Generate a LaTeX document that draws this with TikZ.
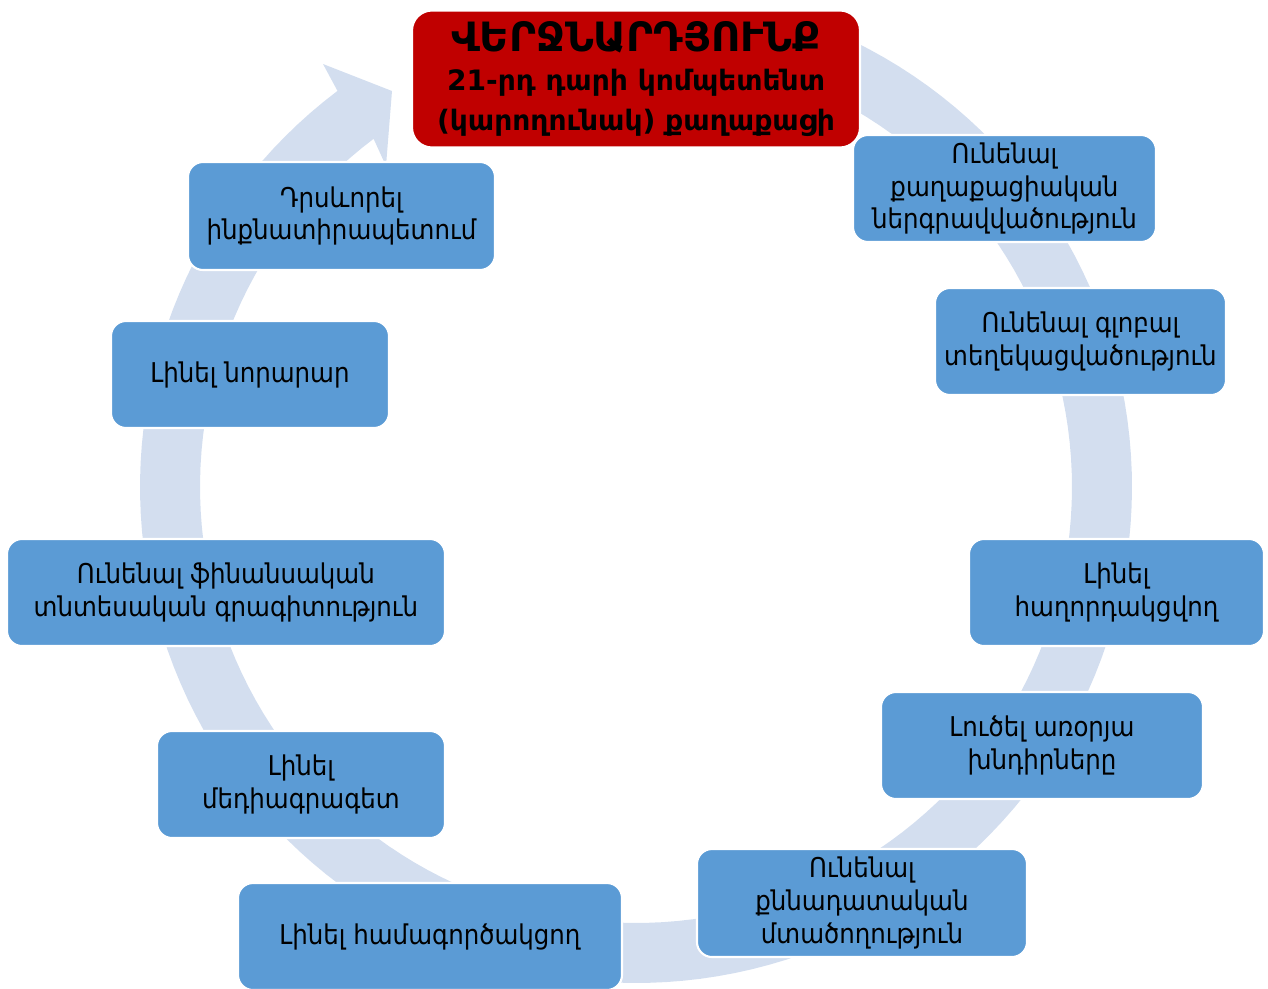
\documentclass[tikz,border=0pt]{standalone}
\usepackage{fontspec}
\setmainfont{DejaVu Sans}
\newfontfamily\armfont{DejaVu Sans Condensed}
\newfontfamily\armboldfont{DejaVu Sans}
\definecolor{ringcol}{HTML}{D3DEEF}
\definecolor{boxblue}{HTML}{5B9BD5}
\definecolor{boxred}{HTML}{C00000}
\tikzset{
  bsize/.style 2 args={minimum width=#1*0.02cm, minimum height=#2*0.02cm},
  bluebox/.style={rectangle, rounded corners=0.3cm, fill=boxblue, draw=white,
    line width=1.2pt, align=center, inner sep=0pt, text=black,
    font=\armfont\fontsize{15.5}{18.7}\selectfont},
  redbox/.style={rectangle, rounded corners=0.4cm, fill=boxred, draw=white,
    line width=1.2pt, align=center, inner sep=0pt, text=black,
    font=\armboldfont\bfseries\fontsize{16}{22.5}\selectfont},
}
\begin{document}
\begin{tikzpicture}[x=0.02cm, y=-0.02cm]
\useasboundingbox (0,0) rectangle (1268,988);
% circular arrow
\fill[ringcol] plot[domain=-66:233, samples=150] ({636+496*cos(\x)},{487+496*sin(\x)})
  -- (323,64) -- (392,91) -- (386,166)
  -- plot[domain=233:-66, samples=150] ({636+436*cos(\x)},{487+436*sin(\x)}) -- cycle;
% boxes
\node[redbox, bsize={448}{137}] (top) at (636,79)
  {{\fontsize{23}{26}\selectfont ՎԵՐՋՆԱՐԴՅՈՒՆՔ}\\21-րդ դարի կոմպետենտ\\(կարողունակ) քաղաքացի};
\node[bluebox, bsize={303}{107}] (b1) at (1004.5,188.5) {Ունենալ\\քաղաքացիական\\ներգրավվածություն};
\node[bluebox, bsize={291}{107}] (b2) at (1080.5,341.5) {Ունենալ գլոբալ\\տեղեկացվածություն};
\node[bluebox, bsize={295}{107}] (b3) at (1116.5,592.5) {Լինել\\հաղորդակցվող};
\node[bluebox, bsize={322}{107}] (b4) at (1042,745.5) {Լուծել առօրյա\\խնդիրները};
\node[bluebox, bsize={330}{108}] (b5) at (862,903) {Ունենալ\\քննադատական\\մտածողություն};
\node[bluebox, bsize={384}{107}] (b6) at (430,936.5) {Լինել համագործակցող};
\node[bluebox, bsize={288}{107}] (b7) at (301,784.5) {Լինել\\մեդիագրագետ};
\node[bluebox, bsize={438}{107}] (b8) at (226,592.5) {Ունենալ ֆինանսական\\տնտեսական գրագիտություն};
\node[bluebox, bsize={278}{107}] (b9) at (250,374.5) {Լինել նորարար};
\node[bluebox, bsize={307}{108}] (b10) at (341.5,216) {Դրսևորել\\ինքնատիրապետում};
\end{tikzpicture}
\end{document}
